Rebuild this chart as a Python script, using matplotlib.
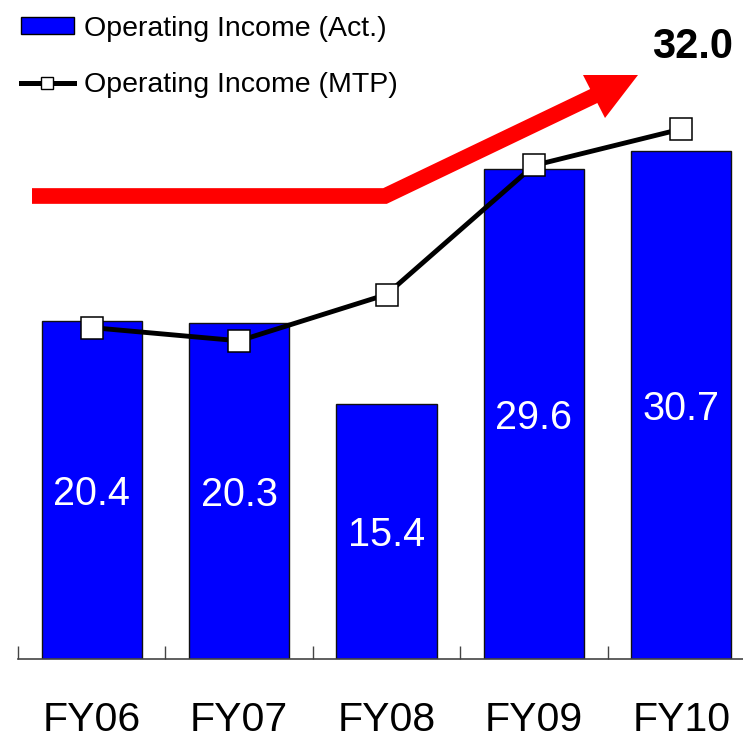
import matplotlib
matplotlib.use("Agg")
import matplotlib.pyplot as plt
from matplotlib.patches import Patch, Polygon
from matplotlib.lines import Line2D
import numpy as np

plt.rcParams['font.family'] = ['Liberation Sans', 'DejaVu Sans']

categories = ["FY06", "FY07", "FY08", "FY09", "FY10"]
actual = [20.4, 20.3, 15.4, 29.6, 30.7]
mtp = [20.0, 19.2, 22.0, 29.8, 32.0]
label_act = "Operating Income (Act.)"
label_mtp = "Operating Income (MTP)"
target_label = "32.0"

W, H = 743, 741
fig = plt.figure(figsize=(W / 100, H / 100), dpi=100)
ax = fig.add_axes([18 / W, (H - 658.5) / H, 737 / W, 658.5 / H])

x = np.arange(len(categories))
ax.bar(x, actual, width=0.681, color="#0000FF", edgecolor="#111111", linewidth=1.0, zorder=2)
ax.plot(x, mtp, color="black", lw=3.5, marker="s", markersize=16.5,
        markerfacecolor="white", markeredgecolor="black", markeredgewidth=1.1, zorder=3)

for xi, v in zip(x, actual):
    ax.annotate(f"{v:.1f}", xy=(xi, v / 2), xytext=(0, -3), textcoords="offset points",
                ha="center", va="center", color="white", fontsize=28.5, zorder=4)

ax.annotate(target_label, xy=(x[-1], mtp[-1]), xytext=(8, 59), textcoords="offset points",
            ha="center", va="center", fontsize=30, fontweight="bold")

ax.set_xlim(-0.5, len(categories) - 0.5)
ax.set_ylim(0, 39.8)
ax.set_xticks(x)
ax.set_xticklabels(categories, fontsize=29.5)
ax.set_xticks(np.arange(-0.5, len(categories), 1.0), minor=True)
ax.tick_params(axis="x", which="major", length=0, pad=30.5)
ax.tick_params(axis="x", which="minor", direction="in", length=9.5, width=1, color="#444444")
ax.set_yticks([])
for s in ["left", "right", "top"]:
    ax.spines[s].set_visible(False)
ax.spines["bottom"].set_color("#444444")
ax.spines["bottom"].set_linewidth(1.2)

# red trend arrow (decoration) in figure pixel coordinates
def fp(px, py):
    return (px / W, 1 - py / H)

shaft = [fp(32, 196), fp(385, 196), fp(598, 94)]
fig.add_artist(Line2D([p[0] for p in shaft], [p[1] for p in shaft], transform=fig.transFigure,
                      color="#FF0000", lw=11.3, solid_joinstyle="miter", solid_capstyle="butt"))
fig.add_artist(Polygon([fp(583, 75), fp(638, 75), fp(605, 118)], closed=True,
                       transform=fig.transFigure, facecolor="#FF0000", edgecolor="none"))

handles = [Patch(facecolor="#0000FF", edgecolor="black", linewidth=1.0),
           Line2D([], [], color="black", lw=3.6, marker="s", markersize=8.5,
                  markerfacecolor="white", markeredgecolor="black", markeredgewidth=1.0)]
fig.legend(handles, [label_act, label_mtp], loc="upper left", bbox_to_anchor=fp(21, 15.5),
           frameon=False, fontsize=20.5, borderpad=0, borderaxespad=0, handlelength=1.85,
           handleheight=0.53, handletextpad=0.38, labelspacing=1.07)

fig.savefig("out.png", dpi=100)
